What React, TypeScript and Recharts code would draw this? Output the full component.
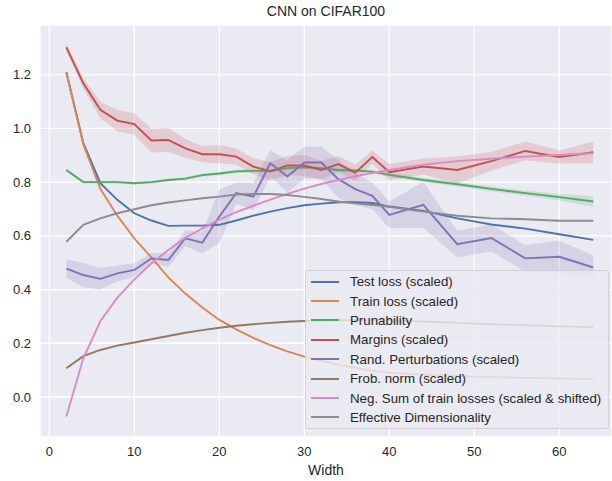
import React from 'react';
import { Area, CartesianGrid, ComposedChart, Line, XAxis, YAxis } from 'recharts';

const widths = [2, 4, 6, 8, 10, 12, 14, 16, 18, 20, 22, 24, 26, 28, 30, 32, 34, 36, 38, 40, 44, 48, 52, 56, 60, 64];

const testLoss = [1.209, 0.945, 0.796, 0.734, 0.684, 0.657, 0.637, 0.638, 0.638, 0.641, 0.657, 0.675, 0.69, 0.703, 0.714, 0.72, 0.725, 0.725, 0.722, 0.709, 0.693, 0.665, 0.642, 0.627, 0.606, 0.585];
const trainLoss = [1.209, 0.94, 0.775, 0.675, 0.59, 0.52, 0.445, 0.385, 0.333, 0.287, 0.252, 0.22, 0.193, 0.17, 0.15, 0.135, 0.12, 0.108, 0.098, 0.09, 0.083, 0.078, 0.074, 0.071, 0.069, 0.067];
const prunability = [0.845, 0.8, 0.8, 0.8, 0.796, 0.8, 0.808, 0.813, 0.826, 0.832, 0.84, 0.842, 0.842, 0.852, 0.855, 0.852, 0.845, 0.843, 0.839, 0.827, 0.808, 0.792, 0.775, 0.759, 0.744, 0.728];
const prunabilityErr = [0.006, 0.005, 0.005, 0.005, 0.005, 0.005, 0.005, 0.006, 0.006, 0.006, 0.006, 0.006, 0.006, 0.006, 0.006, 0.006, 0.006, 0.006, 0.006, 0.008, 0.008, 0.008, 0.009, 0.01, 0.012, 0.02];
const margins = [1.302, 1.168, 1.069, 1.029, 1.016, 0.955, 0.957, 0.926, 0.904, 0.904, 0.895, 0.858, 0.84, 0.862, 0.862, 0.845, 0.867, 0.835, 0.893, 0.837, 0.858, 0.845, 0.878, 0.916, 0.893, 0.911];
const marginsErr = [0.015, 0.02, 0.03, 0.04, 0.04, 0.045, 0.045, 0.035, 0.03, 0.035, 0.03, 0.03, 0.035, 0.035, 0.04, 0.035, 0.03, 0.03, 0.025, 0.03, 0.03, 0.05, 0.035, 0.035, 0.025, 0.04];
const randPert = [0.478, 0.454, 0.44, 0.46, 0.473, 0.516, 0.51, 0.591, 0.575, 0.672, 0.759, 0.746, 0.87, 0.821, 0.873, 0.873, 0.811, 0.774, 0.749, 0.678, 0.715, 0.569, 0.592, 0.516, 0.522, 0.482];
const randPertErr = [0.035, 0.045, 0.04, 0.03, 0.025, 0.02, 0.025, 0.03, 0.04, 0.1, 0.04, 0.05, 0.05, 0.06, 0.06, 0.06, 0.07, 0.06, 0.05, 0.05, 0.085, 0.05, 0.05, 0.05, 0.06, 0.045];
const frobNorm = [0.107, 0.152, 0.175, 0.191, 0.203, 0.215, 0.227, 0.239, 0.249, 0.258, 0.265, 0.271, 0.276, 0.28, 0.283, 0.285, 0.286, 0.286, 0.286, 0.285, 0.281, 0.276, 0.271, 0.267, 0.263, 0.26];
const negSum = [-0.073, 0.144, 0.282, 0.37, 0.438, 0.497, 0.547, 0.593, 0.628, 0.66, 0.688, 0.712, 0.735, 0.756, 0.776, 0.793, 0.808, 0.822, 0.834, 0.845, 0.865, 0.878, 0.887, 0.895, 0.901, 0.908];
const effDim = [0.578, 0.641, 0.665, 0.684, 0.699, 0.714, 0.724, 0.732, 0.74, 0.746, 0.754, 0.756, 0.756, 0.752, 0.745, 0.737, 0.728, 0.721, 0.715, 0.708, 0.69, 0.675, 0.665, 0.662, 0.656, 0.656];

const xTicks = [0, 10, 20, 30, 40, 50, 60];
const yTicks = [0, 0.2, 0.4, 0.6, 0.8, 1.0, 1.2];

const series = [
  { key: 'test', name: 'Test loss (scaled)', color: '#4C72B0' },
  { key: 'train', name: 'Train loss (scaled)', color: '#DD8452' },
  { key: 'prun', name: 'Prunability', color: '#55A868' },
  { key: 'margins', name: 'Margins (scaled)', color: '#C44E52' },
  { key: 'rand', name: 'Rand. Perturbations (scaled)', color: '#8172B3' },
  { key: 'frob', name: 'Frob. norm (scaled)', color: '#937860' },
  { key: 'neg', name: 'Neg. Sum of train losses (scaled & shifted)', color: '#DA8BC3' },
  { key: 'eff', name: 'Effective Dimensionality', color: '#8C8C8C' },
];

const data = widths.map((w, i) => ({
  w,
  test: testLoss[i],
  train: trainLoss[i],
  prun: prunability[i],
  prunBand: [prunability[i] - prunabilityErr[i], prunability[i] + prunabilityErr[i]],
  margins: margins[i],
  marginsBand: [margins[i] - marginsErr[i], margins[i] + marginsErr[i]],
  rand: randPert[i],
  randBand: [randPert[i] - randPertErr[i], randPert[i] + randPertErr[i]],
  frob: frobNorm[i],
  neg: negSum[i],
  eff: effDim[i],
}));

const font = '"Liberation Sans", Arial, sans-serif';
const textColor = '#262626';

const bands: Record<string, string> = { prun: 'prunBand', margins: 'marginsBand', rand: 'randBand' };

export default function App() {
  return (
    <div style={{ position: 'absolute', left: 0, top: 0, width: 612, height: 481, fontFamily: font }}>
      <div
        style={{
          position: 'absolute',
          left: 40,
          width: 572,
          top: 3,
          textAlign: 'center',
          fontSize: 14,
          color: textColor,
        }}
      >
        CNN on CIFAR100
      </div>
      <ComposedChart width={612} height={481} data={data} margin={{ top: 25, right: 0, bottom: 0, left: 0 }}>
        <CartesianGrid fill="#EAEAF2" fillOpacity={1} stroke="#ffffff" strokeWidth={1.3} />
        <XAxis
          dataKey="w"
          type="number"
          domain={[-1.1, 66.2]}
          ticks={xTicks}
          allowDataOverflow
          height={44}
          tickSize={0}
          tickMargin={10}
          axisLine={false}
          tick={{ fontSize: 13, fill: textColor, fontFamily: font }}
          label={{ value: 'Width', position: 'insideBottom', offset: 6, fontSize: 14, fill: textColor, fontFamily: font }}
        />
        <YAxis
          type="number"
          domain={[-0.149, 1.385]}
          ticks={yTicks}
          allowDataOverflow
          width={40}
          tickSize={0}
          tickMargin={9}
          axisLine={false}
          tickFormatter={(v: number) => v.toFixed(1)}
          tick={{ fontSize: 13, fill: textColor, fontFamily: font }}
        />
        {series.map((s) => {
          const out = [
            <Line
              key={s.key}
              dataKey={s.key}
              type="linear"
              stroke={s.color}
              strokeWidth={1.9}
              dot={false}
              activeDot={false}
              isAnimationActive={false}
            />,
          ];
          if (bands[s.key]) {
            out.push(
              <Area
                key={s.key + 'Band'}
                dataKey={bands[s.key]}
                type="linear"
                stroke="none"
                fill={s.color}
                fillOpacity={0.2}
                activeDot={false}
                isAnimationActive={false}
              />
            );
          }
          return out;
        })}
      </ComposedChart>
      <div
        style={{
          position: 'absolute',
          left: 305,
          top: 270,
          width: 304,
          height: 159,
          boxSizing: 'border-box',
          border: '1px solid #cfcfd4',
          borderRadius: 3,
          background: 'rgba(234,234,242,0.82)',
          paddingTop: 1,
        }}
      >
        {series.map((s) => (
          <div key={s.key} style={{ display: 'flex', alignItems: 'center', height: 19.4 }}>
            <div style={{ marginLeft: 5, width: 28, height: 2, background: s.color }} />
            <span style={{ marginLeft: 11, fontSize: 13.3, color: textColor, whiteSpace: 'nowrap' }}>{s.name}</span>
          </div>
        ))}
      </div>
    </div>
  );
}
